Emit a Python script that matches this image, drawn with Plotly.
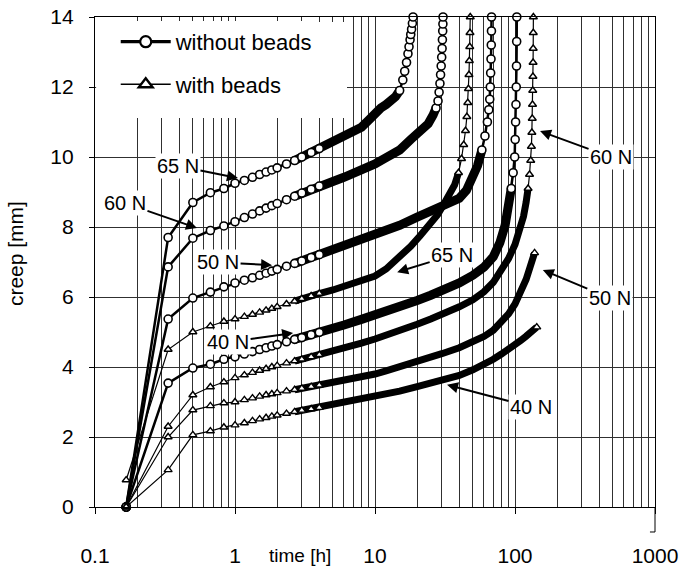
import plotly.graph_objects as go
import numpy as np

# ---------------- data ----------------
# without beads (circles)
C65_T = [0.167, 0.333, 0.5, 0.667, 0.833, 1.0, 1.167, 1.333, 1.5, 1.667, 1.833, 2.0, 2.333, 2.667, 3.0, 3.5, 4.0, 5.0,
         6.0, 7.0, 8.0, 9.0, 10.0, 11.0, 12.0, 13.0, 14.0, 15.0, 15.8, 16.3, 16.8, 17.2, 17.5, 17.8, 18.0, 18.25, 18.5, 18.7]
C65_Y = [0.0, 7.7, 8.7, 8.98, 9.1, 9.25, 9.33, 9.42, 9.5, 9.57, 9.63, 9.69, 9.8, 9.9, 10.0, 10.13, 10.24, 10.42,
         10.57, 10.7, 10.85, 11.05, 11.25, 11.4, 11.5, 11.6, 11.72, 11.9, 12.2, 12.45, 12.7, 12.95, 13.15, 13.35, 13.5, 13.65, 13.82, 14.0]

C60_T = [0.167, 0.333, 0.5, 0.667, 0.833, 1.0, 1.167, 1.333, 1.5, 1.667, 1.833, 2.0, 2.333, 2.667, 3.0, 3.5, 4.0, 5.0,
         6.0, 7.0, 8.0, 10.0, 12.0, 15.0, 18.0, 21.0, 24.0, 26.0, 27.3, 28.2, 28.7, 29.1, 29.4, 29.7, 29.95, 30.15, 30.3, 30.45, 30.55, 30.62]
C60_Y = [0.0, 6.86, 7.68, 7.9, 8.03, 8.15, 8.27, 8.37, 8.46, 8.54, 8.61, 8.67, 8.78, 8.88, 8.97, 9.08, 9.17, 9.3,
         9.42, 9.52, 9.62, 9.8, 9.98, 10.2, 10.5, 10.75, 10.95, 11.2, 11.4, 11.6, 11.85, 12.1, 12.35, 12.6, 12.85, 13.1, 13.35, 13.6, 13.8, 14.0]

C50_T = [0.167, 0.333, 0.5, 0.667, 0.833, 1.0, 1.167, 1.333, 1.5, 1.667, 1.833, 2.0, 2.333, 2.667, 3.0, 3.5, 4.0, 5.0,
         6.0, 8.0, 10.0, 12.0, 15.0, 20.0, 25.0, 30.0, 35.0, 40.0, 45.0, 50.0, 54.0, 58.0, 61.0, 63.5, 65.0, 66.0, 66.6, 67.0,
         67.4, 67.7, 67.9, 68.0]
C50_Y = [0.0, 5.37, 5.97, 6.14, 6.29, 6.4, 6.48, 6.55, 6.62, 6.68, 6.74, 6.79, 6.88, 6.96, 7.03, 7.13, 7.21, 7.35,
         7.46, 7.62, 7.76, 7.88, 8.05, 8.28, 8.45, 8.57, 8.68, 8.82, 9.05, 9.4, 9.75, 10.2, 10.6, 11.0, 11.35, 11.65, 12.0, 12.4,
         12.8, 13.2, 13.6, 14.0]

C40_T = [0.167, 0.333, 0.5, 0.667, 0.833, 1.0, 1.167, 1.333, 1.5, 1.667, 1.833, 2.0, 2.333, 2.667, 3.0, 3.5, 4.0, 5.0,
         6.0, 8.0, 10.0, 12.0, 15.0, 20.0, 25.0, 30.0, 40.0, 50.0, 60.0, 70.0, 78.0, 85.0, 90.0, 94.0, 97.0, 99.5, 100.3,
         101.0, 101.6, 102.1, 102.5, 102.8, 103.0]
C40_Y = [0.0, 3.54, 3.97, 4.08, 4.22, 4.29, 4.37, 4.44, 4.5, 4.55, 4.6, 4.64, 4.72, 4.79, 4.84, 4.92, 4.99, 5.1,
         5.2, 5.36, 5.48, 5.58, 5.71, 5.9, 6.05, 6.18, 6.4, 6.62, 6.85, 7.15, 7.55, 8.05, 8.6, 9.1, 9.55, 10.0, 10.5,
         11.0, 11.5, 12.0, 12.6, 13.3, 14.0]

# with beads (triangles)
T65_T = [0.167, 0.333, 0.5, 0.667, 0.833, 1.0, 1.167, 1.333, 1.5, 1.667, 1.833, 2.0, 2.333, 2.667, 3.0, 3.5, 4.0, 5.0,
         6.0, 8.0, 10.0, 12.0, 15.0, 18.0, 21.0, 25.0, 28.0, 31.0, 34.0, 37.0, 39.5, 41.5, 43.0, 44.3, 45.3, 46.0, 46.5,
         46.9, 47.2, 47.5, 47.7, 47.9]
T65_Y = [0.77, 4.5, 5.0, 5.17, 5.3, 5.37, 5.44, 5.5, 5.56, 5.62, 5.67, 5.72, 5.8, 5.88, 5.95, 6.03, 6.1, 6.2,
         6.3, 6.45, 6.6, 6.8, 7.15, 7.45, 7.75, 8.1, 8.35, 8.65, 8.9, 9.2, 9.55, 9.95, 10.35, 10.75, 11.15, 11.55, 11.95,
         12.35, 12.75, 13.15, 13.55, 14.0]

T60_T = [0.167, 0.333, 0.5, 0.667, 0.833, 1.0, 1.167, 1.333, 1.5, 1.667, 1.833, 2.0, 2.333, 2.667, 3.0, 3.5, 4.0, 5.0,
         6.0, 8.0, 10.0, 12.0, 15.0, 20.0, 25.0, 30.0, 40.0, 50.0, 60.0, 70.0, 80.0, 90.0, 100.0, 108.0, 115.0, 120.0,
         124.0, 127.0, 129.5, 131.0, 132.0, 132.8, 133.4, 133.9, 134.3, 134.6, 134.9, 135.1, 135.3]
T60_Y = [0.0, 2.3, 3.2, 3.43, 3.57, 3.69, 3.77, 3.84, 3.9, 3.95, 4.0, 4.04, 4.11, 4.17, 4.22, 4.29, 4.35, 4.45,
         4.54, 4.68, 4.8, 4.9, 5.05, 5.22, 5.37, 5.5, 5.72, 5.92, 6.15, 6.42, 6.75, 7.1, 7.5, 7.9, 8.3, 8.7,
         9.1, 9.5, 9.9, 10.3, 10.7, 11.1, 11.5, 11.9, 12.3, 12.7, 13.1, 13.55, 14.0]

T50_T = [0.167, 0.333, 0.5, 0.667, 0.833, 1.0, 1.167, 1.333, 1.5, 1.667, 1.833, 2.0, 2.333, 2.667, 3.0, 3.5, 4.0, 5.0,
         6.0, 8.0, 10.0, 12.0, 15.0, 20.0, 25.0, 30.0, 40.0, 50.0, 60.0, 70.0, 80.0, 90.0, 100.0, 110.0, 120.0, 128.0,
         134.0, 138.0]
T50_Y = [0.0, 2.0, 2.77, 2.89, 2.97, 3.0, 3.06, 3.11, 3.16, 3.2, 3.23, 3.26, 3.31, 3.35, 3.39, 3.44, 3.48, 3.54,
         3.6, 3.7, 3.8, 3.89, 4.0, 4.15, 4.27, 4.38, 4.55, 4.7, 4.87, 5.05, 5.28, 5.52, 5.8, 6.12, 6.5, 6.85,
         7.12, 7.26]

T40_T = [0.167, 0.333, 0.5, 0.667, 0.833, 1.0, 1.167, 1.333, 1.5, 1.667, 1.833, 2.0, 2.333, 2.667, 3.0, 3.5, 4.0, 5.0,
         6.0, 8.0, 10.0, 12.0, 15.0, 20.0, 25.0, 30.0, 40.0, 50.0, 60.0, 70.0, 80.0, 90.0, 100.0, 110.0, 120.0, 130.0,
         138.0, 143.0]
T40_Y = [0.0, 1.06, 2.06, 2.17, 2.28, 2.34, 2.4, 2.46, 2.51, 2.55, 2.59, 2.62, 2.67, 2.72, 2.76, 2.8, 2.84, 2.9,
         2.96, 3.06, 3.14, 3.21, 3.31, 3.44, 3.53, 3.6, 3.76, 3.92, 4.07, 4.22, 4.37, 4.5, 4.63, 4.76, 4.88, 5.0,
         5.08, 5.14]

X_TICKS = [0.1, 1, 10, 100, 1000]
X_TICK_TEXT = ["0.1", "1", "10", "100", "1000"]
Y_TICKS = [0, 2, 4, 6, 8, 10, 12, 14]
LEGEND_NAMES = ["without beads", "with beads"]

# ---------------- styling ----------------
FONT = "Liberation Sans, Arial, sans-serif"
GRID = "#303030"
BAND_FROM = 2.5      # hours: dense markers start to merge into a solid band
MARK_UNTIL = 5.0     # individual markers still visible before this time
C_BAND_END = [15.0, 27.3, 58.0, 94.0]     # band ends where curve turns steep
T_BAND_END = [39.5, 124.0, 138.0, 143.0]

fig = go.Figure()

circles = [(C65_T, C65_Y), (C60_T, C60_Y), (C50_T, C50_Y), (C40_T, C40_Y)]
triangles = [(T65_T, T65_Y), (T60_T, T60_Y), (T50_T, T50_Y), (T40_T, T40_Y)]


def band(t, y, end):
    tb = [a for a in t if BAND_FROM <= a <= end]
    yb = [b for a, b in zip(t, y) if BAND_FROM <= a <= end]
    return tb, yb


def sizes(t, end, s):
    return [s if (a < MARK_UNTIL or a >= end) else 0 for a in t]


for (t, y), end in zip(circles, C_BAND_END):
    tb, yb = band(t, y, end)
    fig.add_trace(go.Scatter(x=tb, y=yb, mode="lines", line=dict(color="black", width=9),
                             showlegend=False, hoverinfo="skip", cliponaxis=False))
for (t, y), end in zip(triangles, T_BAND_END):
    tb, yb = band(t, y, end)
    fig.add_trace(go.Scatter(x=tb, y=yb, mode="lines", line=dict(color="black", width=7),
                             showlegend=False, hoverinfo="skip", cliponaxis=False))

for (t, y), end in zip(circles, C_BAND_END):
    fig.add_trace(go.Scatter(
        x=t, y=y, mode="lines+markers", showlegend=False, cliponaxis=False,
        line=dict(color="black", width=2.5),
        marker=dict(symbol="circle", size=sizes(t, end, 8), color="white", opacity=1,
                    line=dict(color="black", width=1.6))))
for (t, y), end in zip(triangles, T_BAND_END):
    fig.add_trace(go.Scatter(
        x=t, y=y, mode="lines+markers", showlegend=False, cliponaxis=False,
        line=dict(color="black", width=1.2),
        marker=dict(symbol="triangle-up", size=sizes(t, end, 7), color="white", opacity=1,
                    line=dict(color="black", width=1.4))))

# legend entries (legend-only proxies, drawn larger as in the reference key)
fig.add_trace(go.Scatter(x=[None], y=[None], mode="lines+markers", name=LEGEND_NAMES[0], legendgroup="a",
                         line=dict(color="black", width=3.2),
                         marker=dict(symbol="circle", size=11, color="white", line=dict(color="black", width=2.2))))
fig.add_trace(go.Scatter(x=[None], y=[None], mode="lines+markers", name=LEGEND_NAMES[1], legendgroup="b",
                         line=dict(color="black", width=1.6),
                         marker=dict(symbol="triangle-up", size=12, color="white", line=dict(color="black", width=2.4))))

# ---------------- annotations ----------------
labels = [
    ("65 N", 1.05, 9.4, -60, -12),
    ("60 N", 0.535, 7.97, -72, -25),
    ("50 N", 1.84, 6.91, -54, -3),
    ("40 N", 2.6, 4.97, -65, 9),
    ("65 N", 14.4, 6.71, 55, -17),
    ("60 N", 151, 10.74, 71, 26),
    ("50 N", 158, 6.77, 67, 28),
    ("40 N", 32.7, 3.49, 84, 22),
]
ann = []
for txt, tx, ty, ax, ay in labels:
    ann.append(dict(x=np.log10(tx), y=ty, xref="x", yref="y", text=txt, showarrow=True,
                    ax=ax, ay=ay, arrowhead=2, arrowsize=1.1, arrowwidth=2, arrowcolor="black",
                    font=dict(family=FONT, size=20, color="black"), bgcolor="white", borderpad=1))
ann.append(dict(x=0.366, y=-0.098, xref="paper", yref="paper", text="time [h]", showarrow=False,
                font=dict(family=FONT, size=19, color="black"), xanchor="center", yanchor="middle"))
ann.append(dict(x=-0.143, y=0.518, xref="paper", yref="paper", text="creep [mm]", showarrow=False,
                textangle=-90, font=dict(family=FONT, size=21, color="black"), xanchor="center", yanchor="middle"))

shapes = [
    # white key box hiding the grid behind the legend (no curves pass there)
    dict(type="rect", xref="paper", yref="paper", x0=0.002, x1=0.45, y0=0.794, y1=0.99,
         fillcolor="white", line=dict(width=0), layer="above"),
    dict(type="line", xref="paper", yref="paper", x0=1, x1=1, y0=0, y1=-0.051, line=dict(color="black", width=1)),
    dict(type="line", xref="paper", yref="paper", x0=0.991, x1=1, y0=-0.051, y1=-0.051, line=dict(color="black", width=1)),
]

fig.update_layout(
    width=686, height=569,
    margin=dict(l=95, r=31, t=17, b=62, autoexpand=False),
    paper_bgcolor="white", plot_bgcolor="white",
    font=dict(family=FONT, color="black"),
    showlegend=True,
    legend=dict(x=0.037, y=0.992, xanchor="left", yanchor="top", bgcolor="white",
                font=dict(family=FONT, size=22, color="black"), tracegroupgap=11, itemwidth=50),
    annotations=ann,
    shapes=shapes,
    xaxis=dict(type="log", range=[-1, 3], tickvals=X_TICKS, ticktext=X_TICK_TEXT,
               showgrid=True, gridcolor=GRID, gridwidth=1,
               minor=dict(dtick="D1", showgrid=True, gridcolor=GRID, gridwidth=1, ticks=""),
               showline=True, linecolor="black", linewidth=1.2, mirror=True,
               ticks="outside", ticklen=6, tickcolor="black", ticklabelstandoff=24, automargin=False,
               tickfont=dict(family=FONT, size=21, color="black"), zeroline=False),
    yaxis=dict(range=[0, 14], tickvals=Y_TICKS, showgrid=True, gridcolor=GRID, gridwidth=1,
               showline=True, linecolor="black", linewidth=1.2, mirror=True,
               ticks="outside", ticklen=5, tickcolor="black", ticklabelstandoff=11, automargin=False,
               tickfont=dict(family=FONT, size=21, color="black"), zeroline=False),
)

fig.write_html("out.html")
